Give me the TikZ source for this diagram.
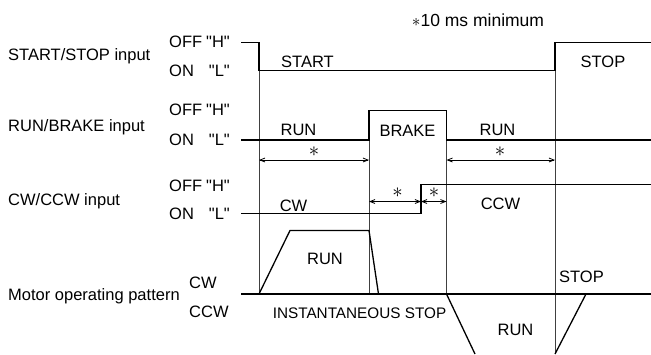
\documentclass[tikz,border=0pt]{standalone}
\usepackage{fontspec}
\setmainfont{Liberation Sans}[Ligatures=TeXOff]
\usetikzlibrary{arrows.meta}
\tikzset{
  sig/.style={line width=1.5pt, line join=miter},
  guide/.style={line width=0.8pt, black!75},
  dim/.style={line width=0.8pt, {Straight Barb[length=5pt,width=4pt]}-{Straight Barb[length=5pt,width=4pt]}},
  lbl/.style={inner sep=0pt, font=\fontsize{16.5}{18}\selectfont},
  ast/.style={inner sep=0pt, font=\fontsize{21}{22}\selectfont}
}
\begin{document}
\begin{tikzpicture}[x=1pt,y=-1pt]
\useasboundingbox (0,0) rectangle (651,354);
% guides
\draw[guide] (259,70) -- (259,294);
\draw[guide] (369,110) -- (369,294);
\draw[guide] (446.5,110) -- (446.5,294);
\draw[guide] (555,42.5) -- (555,354);
% signals
\draw[sig] (241,42.5) -- (259,42.5) -- (259,70.5) -- (555,70.5) -- (555,42.5) -- (651,42.5);
\draw[sig] (241,140) -- (369,140) -- (369,110.5) -- (446.5,110.5) -- (446.5,140) -- (651,140);
\draw[sig] (241,213.5) -- (421,213.5) -- (421,184.5) -- (651,184.5);
\draw[sig] (241,294) -- (651,294);
\draw[line width=1.3pt, line join=miter] (259,294) -- (290,230.5) -- (369,230.5) -- (378.5,294);
\draw[line width=1.3pt] (446.5,294) -- (475,354);
\draw[line width=1.3pt] (555,354) -- (586,294);
% dimension arrows
\coordinate (a1) at (259,160);
\coordinate (a2) at (369,160);
\coordinate (a3) at (446.5,160);
\coordinate (a4) at (555,160);
\coordinate (b1) at (369,201.5);
\coordinate (b2) at (421,201.5);
\coordinate (b3) at (446.5,201.5);
\draw[dim] (a1) -- (a2);
\draw[dim] (a3) -- (a4);
\draw[dim] (b1) -- (b2);
\draw[dim] (b2) -- (b3);
\node[ast] (s1) at (314,152) {$\ast$};
\node[ast] (s2) at (500,152) {$\ast$};
\node[ast] (s3) at (397.5,193) {$\ast$};
\node[ast] (s4) at (434,193) {$\ast$};
% title note
\node[inner sep=0pt, font=\fontsize{17.5}{19}\selectfont] (note) at (478,20) {$\ast$10 ms minimum};
% left labels
\node[lbl, anchor=west] (l1) at (8,56) {START/STOP input};
\node[lbl, anchor=west] (l2) at (8,127) {RUN/BRAKE input};
\node[lbl, anchor=west] (l3) at (8,201) {CW/CCW input};
\node[lbl, anchor=west] (l4) at (8,296) {Motor operating pattern};
\foreach \n/\yh/\yl in {1/42/71, 2/110/140, 3/186/214}{
  \node[lbl, anchor=west] (off\n) at (169,\yh) {OFF};
  \node[lbl, anchor=east] (h\n) at (230,\yh) {"H"};
  \node[lbl, anchor=west] (on\n) at (169,\yl) {ON};
  \node[lbl, anchor=east] (lo\n) at (230,\yl) {"L"};
}
\node[lbl, anchor=west] (mcw) at (189,283) {CW};
\node[lbl, anchor=west] (mccw) at (189,311.5) {CCW};
% inner labels
\node[lbl, anchor=west] (start) at (281,62) {START};
\node[lbl] (stop) at (603,62) {STOP};
\node[lbl] (run1) at (298.5,130) {RUN};
\node[lbl] (brake) at (407.5,130.5) {BRAKE};
\node[lbl] (run2) at (497.5,130) {RUN};
\node[lbl] (cw) at (293.5,205.5) {CW};
\node[lbl] (ccw) at (500.5,203.5) {CCW};
\node[lbl] (mrun) at (325,259) {RUN};
\node[inner sep=0pt, font=\fontsize{15.3}{17}\selectfont] (inst) at (359.5,313) {INSTANTANEOUS STOP};
\node[lbl] (mstop) at (581.5,276.5) {STOP};
\node[lbl] (mrun2) at (515.5,330) {RUN};
\end{tikzpicture}
\end{document}
